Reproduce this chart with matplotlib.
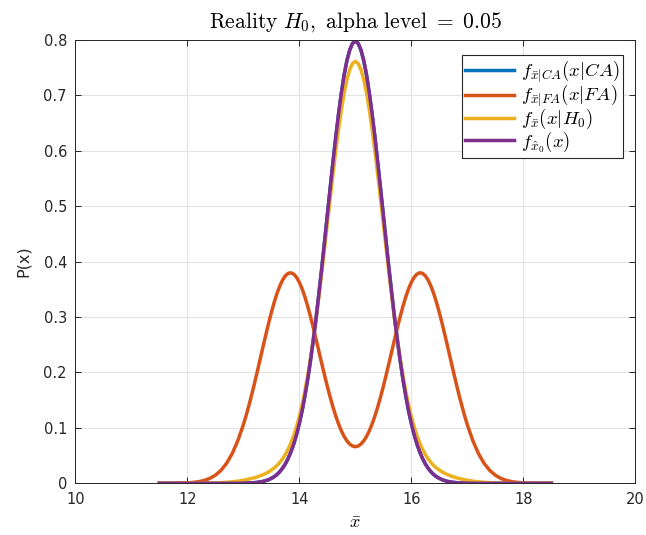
import matplotlib
matplotlib.use("Agg")
import matplotlib.pyplot as plt

# --- data ---
x = [11.5, 11.8, 12.0, 12.1, 12.2, 12.3, 12.4, 12.5, 12.6, 12.7, 12.8, 12.9,
     13.0, 13.05, 13.1, 13.15, 13.2, 13.25, 13.3, 13.35, 13.4, 13.45, 13.5, 13.55,
     13.6, 13.65, 13.7, 13.75, 13.8, 13.85, 13.9, 13.95, 14.0, 14.05, 14.1, 14.15,
     14.2, 14.25, 14.3, 14.35, 14.4, 14.45, 14.5, 14.55, 14.6, 14.65, 14.7, 14.75,
     14.8, 14.85, 14.9, 14.95, 15.0,
     15.05, 15.1, 15.15, 15.2, 15.25, 15.3, 15.35, 15.4, 15.45, 15.5, 15.55, 15.6,
     15.65, 15.7, 15.75, 15.8, 15.85, 15.9, 15.95, 16.0, 16.05, 16.1, 16.15, 16.2,
     16.25, 16.3, 16.35, 16.4, 16.45, 16.5, 16.55, 16.6, 16.65, 16.7, 16.75, 16.8,
     16.85, 16.9, 16.95, 17.0, 17.1, 17.2, 17.3, 17.4, 17.5, 17.6, 17.7, 17.8,
     17.9, 18.0, 18.2, 18.5]
f_ca = [0, 0, 0, 0, 0, 0, 0, 0, 0, 0, 0.00005, 0.0001,
        0.0003, 0.0004, 0.0006, 0.0008, 0.0012, 0.0017, 0.0025, 0.0034, 0.0048,
        0.0065, 0.0089, 0.0119, 0.0158, 0.0208, 0.0272, 0.0350, 0.0448, 0.0567,
        0.0709, 0.0880, 0.108, 0.1312, 0.158, 0.1881, 0.222, 0.2591, 0.299, 0.3428,
        0.388, 0.4357, 0.484, 0.532, 0.579, 0.6245, 0.666, 0.704, 0.737, 0.763,
        0.782, 0.794, 0.798,
        0.794, 0.782, 0.763, 0.737, 0.704, 0.666, 0.6245, 0.579, 0.532, 0.484,
        0.4357, 0.388, 0.3428, 0.299, 0.2591, 0.222, 0.1881, 0.158, 0.1312, 0.108,
        0.0880, 0.0709, 0.0567, 0.0448, 0.0350, 0.0272, 0.0208, 0.0158, 0.0119,
        0.0089, 0.0065, 0.0048, 0.0034, 0.0025, 0.0017, 0.0012, 0.0008, 0.0006,
        0.0004, 0.0003, 0.0001, 0.00005, 0, 0, 0, 0, 0, 0, 0, 0, 0, 0]
f_fa = [0, 0.0002, 0.0008, 0.0016, 0.0029, 0.0051, 0.0088, 0.0146, 0.0233, 0.0359,
        0.0534, 0.0765,
        0.1056, 0.1224, 0.1407, 0.1601, 0.1807, 0.2020, 0.2239, 0.2458, 0.2674,
        0.2883, 0.3081, 0.3262, 0.3423, 0.3559, 0.3667, 0.3745, 0.3789, 0.3800,
        0.3775, 0.3718, 0.3627, 0.3509, 0.3363, 0.3194, 0.3007, 0.2806, 0.2595,
        0.2380, 0.2164, 0.1953, 0.1749, 0.1557, 0.1378, 0.1216, 0.1072, 0.0948,
        0.0846, 0.0766, 0.0708, 0.0673, 0.0661,
        0.0673, 0.0708, 0.0766, 0.0846, 0.0948, 0.1072, 0.1216, 0.1378, 0.1557,
        0.1749, 0.1953, 0.2164, 0.2380, 0.2595, 0.2806, 0.3007, 0.3194, 0.3363,
        0.3509, 0.3627, 0.3718, 0.3775, 0.3800, 0.3789, 0.3745, 0.3667, 0.3559,
        0.3423, 0.3262, 0.3081, 0.2883, 0.2674, 0.2458, 0.2239, 0.2020, 0.1807,
        0.1601, 0.1407, 0.1224, 0.1056, 0.0765, 0.0534, 0.0359, 0.0233, 0.0146,
        0.0088, 0.0051, 0.0029, 0.0016, 0.0008, 0.0002, 0]
f_h0 = [0, 0, 0, 0.0001, 0.0001, 0.0003, 0.0004, 0.0007, 0.0012, 0.0018, 0.0027,
        0.0038,
        0.0056, 0.0065, 0.0076, 0.0088, 0.0101, 0.0117, 0.0136, 0.0155, 0.0179,
        0.0206, 0.0239, 0.0276, 0.0321, 0.0376, 0.0442, 0.0520, 0.0615, 0.0729,
        0.0862, 0.1022, 0.1207, 0.1421, 0.1669, 0.1947, 0.2259, 0.2601, 0.2971,
        0.3376, 0.3794, 0.4237, 0.4685, 0.5132, 0.5569, 0.5994, 0.6381, 0.6735,
        0.7044, 0.7287, 0.7464, 0.7577, 0.7614,
        0.7577, 0.7464, 0.7287, 0.7044, 0.6735, 0.6381, 0.5994, 0.5569, 0.5132,
        0.4685, 0.4237, 0.3794, 0.3376, 0.2971, 0.2601, 0.2259, 0.1947, 0.1669,
        0.1421, 0.1207, 0.1022, 0.0862, 0.0729, 0.0615, 0.0520, 0.0442, 0.0376,
        0.0321, 0.0276, 0.0239, 0.0206, 0.0179, 0.0155, 0.0136, 0.0117, 0.0101,
        0.0088, 0.0076, 0.0065, 0.0056, 0.0038, 0.0027, 0.0018, 0.0012, 0.0007,
        0.0004, 0.0003, 0.0001, 0.0001, 0, 0, 0]
f_x0 = f_ca
labels = [r"$f_{\bar{x}|CA}(x|CA)$", r"$f_{\bar{x}|FA}(x|FA)$",
          r"$f_{\bar{x}}(x|H_0)$", r"$f_{\hat{x}_0}(x)$"]
xticks = [10, 12, 14, 16, 18, 20]
yticks = [0, 0.1, 0.2, 0.3, 0.4, 0.5, 0.6, 0.7, 0.8]
ylabels = ["0", "0.1", "0.2", "0.3", "0.4", "0.5", "0.6", "0.7", "0.8"]

COLS = ["#0072BD", "#D95319", "#EDB120", "#7E2F8E"]
AX = "#262626"
plt.rcParams["mathtext.fontset"] = "cm"

fig = plt.figure(figsize=(6.46, 5.35), dpi=100)
ax = fig.add_axes([0.1166, 0.0966, 0.8669, 0.8286])
for ys, c, lb in zip([f_ca, f_fa, f_h0, f_x0], COLS, labels):
    ax.plot(x, ys, color=c, lw=2.5, label=lb, solid_joinstyle="round")

ax.set_xlim(10, 20); ax.set_ylim(0, 0.8)
ax.set_xticks(xticks); ax.set_xticklabels([str(t) for t in xticks])
ax.set_yticks(yticks); ax.set_yticklabels(ylabels)
ax.grid(True, color="#e3e3e3", lw=0.8)
ax.set_axisbelow(True)
ax.tick_params(direction="in", length=4, width=0.7, colors=AX, labelsize=10.5,
               top=True, right=True, pad=6)
for s in ax.spines.values():
    s.set_color(AX); s.set_linewidth(0.7)

ax.set_title(r"$\mathrm{Reality}\ H_0,\ \mathrm{alpha\ level}\ =\ 0.05$", fontsize=15.5, pad=9)
ax.set_xlabel(r"$\bar{x}$", fontsize=13, labelpad=5)
ax.set_ylabel("P(x)", fontsize=11.5, color=AX, labelpad=9)

leg = ax.legend(loc="upper right", bbox_to_anchor=(0.978, 0.966), fontsize=13.5,
                fancybox=False, framealpha=1, edgecolor=AX, handlelength=2.6,
                handletextpad=0.35, borderpad=0.2, labelspacing=-0.12, borderaxespad=0)
leg.get_frame().set_linewidth(0.8)

fig.savefig("out.png", dpi=100)
